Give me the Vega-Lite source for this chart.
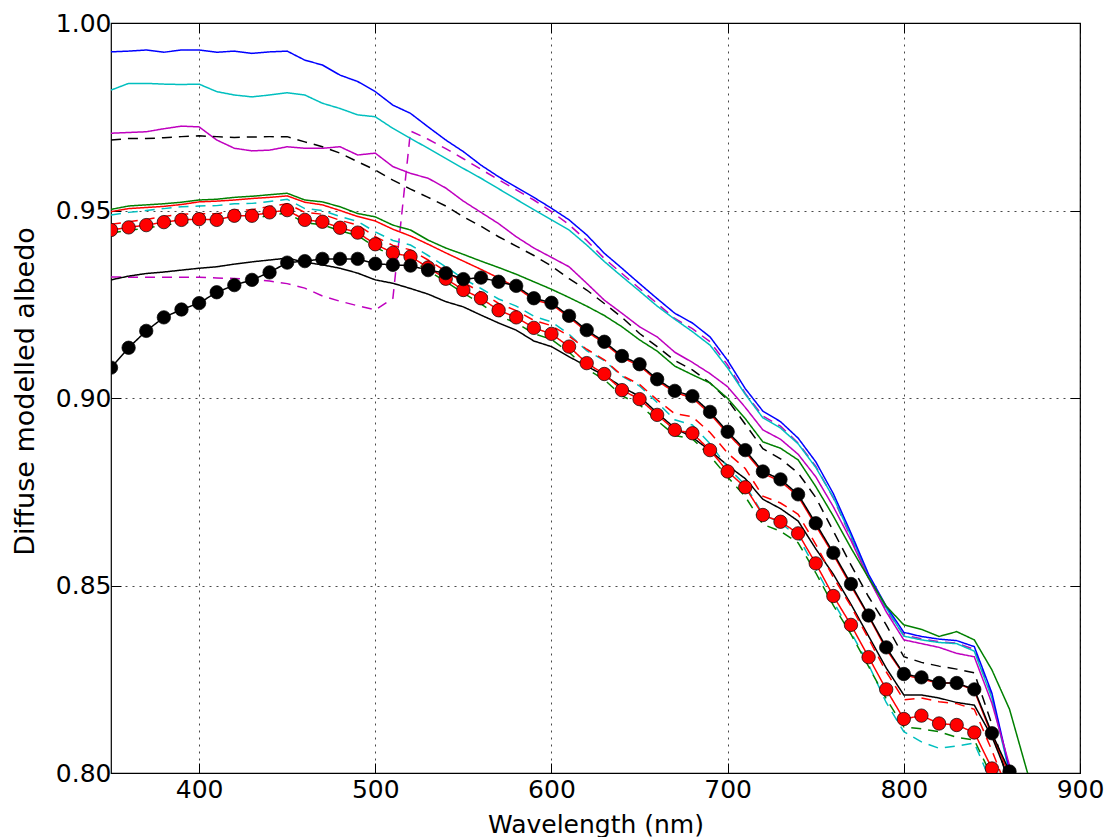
{
 "$schema": "https://vega.github.io/schema/vega-lite/v6.json",
 "width": 969, "height": 750,
 "autosize": {"type": "none"},
 "padding": {"left": 111, "top": 23, "right": 31, "bottom": 64},
 "background": "white",
 "config": {
  "font": "DejaVu Sans",
  "view": {"stroke": "black", "strokeWidth": 1.2},
  "axis": {"labelFont": "DejaVu Sans", "titleFont": "DejaVu Sans", "labelFontSize": 25, "titleFontSize": 25, "labelColor": "#000", "titleColor": "#000", "titleFontWeight": "normal", "domain": false, "tickColor": "#000", "tickSize": -10, "tickWidth": 1, "gridColor": "#000", "gridDash": [2, 5], "gridWidth": 0.8, "gridOpacity": 0.9, "labelPadding": 10, "labelFlush": false}
 },
 "data": {"values": [
  {"x":350,"bl":0.9923,"cy":0.9821,"mg":0.9706,"kd":0.9688,"gr":0.9503,"rd":0.9497,"cd":0.9488,"rdd":0.9463,"gd":0.9440,"md":0.9323,"k":0.9315,"kdot":0.9081,"rdot":0.9448},
  {"x":360,"bl":0.9925,"cy":0.9839,"mg":0.9708,"kd":0.9692,"gr":0.9512,"rd":0.9505,"cd":0.9495,"rdd":0.9470,"gd":0.9447,"md":0.9322,"k":0.9325,"kdot":0.9134,"rdot":0.9455},
  {"x":370,"bl":0.9928,"cy":0.9839,"mg":0.9710,"kd":0.9692,"gr":0.9515,"rd":0.9508,"cd":0.9500,"rdd":0.9476,"gd":0.9453,"md":0.9322,"k":0.9332,"kdot":0.9179,"rdot":0.9461},
  {"x":380,"bl":0.9922,"cy":0.9837,"mg":0.9718,"kd":0.9694,"gr":0.9518,"rd":0.9511,"cd":0.9505,"rdd":0.9484,"gd":0.9461,"md":0.9322,"k":0.9336,"kdot":0.9215,"rdot":0.9469},
  {"x":390,"bl":0.9928,"cy":0.9836,"mg":0.9725,"kd":0.9697,"gr":0.9522,"rd":0.9516,"cd":0.9510,"rdd":0.9490,"gd":0.9467,"md":0.9322,"k":0.9341,"kdot":0.9236,"rdot":0.9475},
  {"x":400,"bl":0.9928,"cy":0.9837,"mg":0.9723,"kd":0.9699,"gr":0.9528,"rd":0.9523,"cd":0.9512,"rdd":0.9492,"gd":0.9469,"md":0.9322,"k":0.9346,"kdot":0.9253,"rdot":0.9477},
  {"x":410,"bl":0.9922,"cy":0.9817,"mg":0.9688,"kd":0.9697,"gr":0.9530,"rd":0.9525,"cd":0.9513,"rdd":0.9491,"gd":0.9468,"md":0.9320,"k":0.9350,"kdot":0.9282,"rdot":0.9475},
  {"x":420,"bl":0.9925,"cy":0.9808,"mg":0.9666,"kd":0.9695,"gr":0.9535,"rd":0.9528,"cd":0.9518,"rdd":0.9501,"gd":0.9478,"md":0.9319,"k":0.9357,"kdot":0.9301,"rdot":0.9486},
  {"x":430,"bl":0.9919,"cy":0.9803,"mg":0.9659,"kd":0.9696,"gr":0.9538,"rd":0.9532,"cd":0.9519,"rdd":0.9502,"gd":0.9478,"md":0.9316,"k":0.9363,"kdot":0.9315,"rdot":0.9486},
  {"x":440,"bl":0.9923,"cy":0.9808,"mg":0.9661,"kd":0.9697,"gr":0.9542,"rd":0.9535,"cd":0.9524,"rdd":0.9511,"gd":0.9487,"md":0.9312,"k":0.9368,"kdot":0.9335,"rdot":0.9495},
  {"x":450,"bl":0.9925,"cy":0.9814,"mg":0.9670,"kd":0.9697,"gr":0.9546,"rd":0.9539,"cd":0.9530,"rdd":0.9518,"gd":0.9493,"md":0.9305,"k":0.9373,"kdot":0.9361,"rdot":0.9501},
  {"x":460,"bl":0.9901,"cy":0.9808,"mg":0.9666,"kd":0.9683,"gr":0.9528,"rd":0.9522,"cd":0.9505,"rdd":0.9495,"gd":0.9467,"md":0.9293,"k":0.9362,"kdot":0.9365,"rdot":0.9475},
  {"x":470,"bl":0.9888,"cy":0.9786,"mg":0.9666,"kd":0.9670,"gr":0.9523,"rd":0.9515,"cd":0.9500,"rdd":0.9490,"gd":0.9462,"md":0.9272,"k":0.9355,"kdot":0.9371,"rdot":0.9470},
  {"x":480,"bl":0.9861,"cy":0.9772,"mg":0.9670,"kd":0.9653,"gr":0.9510,"rd":0.9500,"cd":0.9484,"rdd":0.9474,"gd":0.9446,"md":0.9258,"k":0.9346,"kdot":0.9371,"rdot":0.9454},
  {"x":490,"bl":0.9844,"cy":0.9755,"mg":0.9648,"kd":0.9630,"gr":0.9492,"rd":0.9484,"cd":0.9471,"rdd":0.9461,"gd":0.9433,"md":0.9246,"k":0.9333,"kdot":0.9371,"rdot":0.9441},
  {"x":500,"bl":0.9817,"cy":0.9750,"mg":0.9653,"kd":0.9608,"gr":0.9483,"rd":0.9472,"cd":0.9443,"rdd":0.9430,"gd":0.9402,"md":0.9235,"k":0.9315,"kdot":0.9358,"rdot":0.9410},
  {"x":510,"bl":0.9781,"cy":0.9719,"mg":0.9617,"kd":0.9581,"gr":0.9461,"rd":0.9450,"cd":0.9420,"rdd":0.9407,"gd":0.9379,"md":0.9266,"k":0.9306,"kdot":0.9355,"rdot":0.9387},
  {"x":520,"bl":0.9759,"cy":0.9692,"mg":0.9599,"kd":0.9557,"gr":0.9448,"rd":0.9432,"cd":0.9408,"rdd":0.9395,"gd":0.9369,"md":0.9712,"k":0.9292,"kdot":0.9353,"rdot":0.9377},
  {"x":530,"bl":0.9723,"cy":0.9666,"mg":0.9586,"kd":0.9535,"gr":0.9421,"rd":0.9410,"cd":0.9380,"rdd":0.9368,"gd":0.9340,"md":0.9690,"k":0.9277,"kdot":0.9341,"rdot":0.9348},
  {"x":540,"bl":0.9688,"cy":0.9639,"mg":0.9560,"kd":0.9512,"gr":0.9400,"rd":0.9387,"cd":0.9350,"rdd":0.9338,"gd":0.9310,"md":0.9665,"k":0.9257,"kdot":0.9333,"rdot":0.9318},
  {"x":550,"bl":0.9657,"cy":0.9612,"mg":0.9525,"kd":0.9483,"gr":0.9383,"rd":0.9365,"cd":0.9318,"rdd":0.9308,"gd":0.9280,"md":0.9638,"k":0.9243,"kdot":0.9317,"rdot":0.9288},
  {"x":560,"bl":0.9621,"cy":0.9586,"mg":0.9495,"kd":0.9458,"gr":0.9365,"rd":0.9343,"cd":0.9292,"rdd":0.9282,"gd":0.9251,"md":0.9610,"k":0.9221,"kdot":0.9321,"rdot":0.9266},
  {"x":570,"bl":0.9590,"cy":0.9558,"mg":0.9465,"kd":0.9430,"gr":0.9348,"rd":0.9320,"cd":0.9264,"rdd":0.9252,"gd":0.9219,"md":0.9582,"k":0.9200,"kdot":0.9310,"rdot":0.9234},
  {"x":580,"bl":0.9562,"cy":0.9530,"mg":0.9430,"kd":0.9405,"gr":0.9330,"rd":0.9295,"cd":0.9245,"rdd":0.9233,"gd":0.9200,"md":0.9555,"k":0.9181,"kdot":0.9299,"rdot":0.9215},
  {"x":590,"bl":0.9535,"cy":0.9502,"mg":0.9400,"kd":0.9380,"gr":0.9310,"rd":0.9262,"cd":0.9218,"rdd":0.9207,"gd":0.9172,"md":0.9528,"k":0.9152,"kdot":0.9266,"rdot":0.9187},
  {"x":600,"bl":0.9506,"cy":0.9475,"mg":0.9375,"kd":0.9352,"gr":0.9290,"rd":0.9250,"cd":0.9203,"rdd":0.9193,"gd":0.9156,"md":0.9497,"k":0.9137,"kdot":0.9254,"rdot":0.9171},
  {"x":610,"bl":0.9475,"cy":0.9448,"mg":0.9350,"kd":0.9318,"gr":0.9268,"rd":0.9215,"cd":0.9170,"rdd":0.9165,"gd":0.9122,"md":0.9462,"k":0.9110,"kdot":0.9219,"rdot":0.9137},
  {"x":620,"bl":0.9435,"cy":0.9408,"mg":0.9306,"kd":0.9288,"gr":0.9245,"rd":0.9177,"cd":0.9126,"rdd":0.9130,"gd":0.9078,"md":0.9420,"k":0.9085,"kdot":0.9181,"rdot":0.9093},
  {"x":630,"bl":0.9386,"cy":0.9364,"mg":0.9261,"kd":0.9252,"gr":0.9220,"rd":0.9146,"cd":0.9100,"rdd":0.9102,"gd":0.9049,"md":0.9372,"k":0.9060,"kdot":0.9150,"rdot":0.9064},
  {"x":640,"bl":0.9346,"cy":0.9324,"mg":0.9226,"kd":0.9215,"gr":0.9190,"rd":0.9108,"cd":0.9058,"rdd":0.9060,"gd":0.9006,"md":0.9332,"k":0.9030,"kdot":0.9112,"rdot":0.9021},
  {"x":650,"bl":0.9305,"cy":0.9285,"mg":0.9190,"kd":0.9172,"gr":0.9155,"rd":0.9086,"cd":0.9032,"rdd":0.9036,"gd":0.8982,"md":0.9292,"k":0.9004,"kdot":0.9090,"rdot":0.8997},
  {"x":660,"bl":0.9265,"cy":0.9245,"mg":0.9163,"kd":0.9137,"gr":0.9125,"rd":0.9046,"cd":0.8988,"rdd":0.8995,"gd":0.8940,"md":0.9252,"k":0.8960,"kdot":0.9050,"rdot":0.8955},
  {"x":670,"bl":0.9226,"cy":0.9210,"mg":0.9122,"kd":0.9100,"gr":0.9085,"rd":0.9015,"cd":0.8942,"rdd":0.8958,"gd":0.8900,"md":0.9212,"k":0.8920,"kdot":0.9019,"rdot":0.8915},
  {"x":680,"bl":0.9200,"cy":0.9177,"mg":0.9095,"kd":0.9075,"gr":0.9062,"rd":0.9000,"cd":0.8928,"rdd":0.8950,"gd":0.8891,"md":0.9185,"k":0.8895,"kdot":0.9005,"rdot":0.8906},
  {"x":690,"bl":0.9163,"cy":0.9141,"mg":0.9065,"kd":0.9040,"gr":0.9040,"rd":0.8958,"cd":0.8878,"rdd":0.8908,"gd":0.8846,"md":0.9150,"k":0.8860,"kdot":0.8963,"rdot":0.8861},
  {"x":700,"bl":0.9100,"cy":0.9080,"mg":0.9030,"kd":0.8995,"gr":0.8999,"rd":0.8905,"cd":0.8815,"rdd":0.8853,"gd":0.8789,"md":0.9088,"k":0.8820,"kdot":0.8910,"rdot":0.8804},
  {"x":710,"bl":0.9025,"cy":0.9010,"mg":0.8975,"kd":0.8930,"gr":0.8945,"rd":0.8856,"cd":0.8768,"rdd":0.8812,"gd":0.8737,"md":0.9012,"k":0.8785,"kdot":0.8861,"rdot":0.8762},
  {"x":720,"bl":0.8965,"cy":0.8947,"mg":0.8915,"kd":0.8865,"gr":0.8883,"rd":0.8799,"cd":0.8690,"rdd":0.8738,"gd":0.8663,"md":0.8952,"k":0.8730,"kdot":0.8804,"rdot":0.8688},
  {"x":730,"bl":0.8937,"cy":0.8920,"mg":0.8890,"kd":0.8838,"gr":0.8866,"rd":0.8778,"cd":0.8667,"rdd":0.8720,"gd":0.8645,"md":0.8925,"k":0.8705,"kdot":0.8783,"rdot":0.8670},
  {"x":740,"bl":0.8893,"cy":0.8878,"mg":0.8850,"kd":0.8800,"gr":0.8835,"rd":0.8738,"cd":0.8630,"rdd":0.8690,"gd":0.8614,"md":0.8880,"k":0.8672,"kdot":0.8743,"rdot":0.8639},
  {"x":750,"bl":0.8830,"cy":0.8815,"mg":0.8790,"kd":0.8735,"gr":0.8764,"rd":0.8660,"cd":0.8545,"rdd":0.8610,"gd":0.8534,"md":0.8818,"k":0.8598,"kdot":0.8666,"rdot":0.8559},
  {"x":760,"bl":0.8745,"cy":0.8735,"mg":0.8710,"kd":0.8645,"gr":0.8685,"rd":0.8582,"cd":0.8457,"rdd":0.8522,"gd":0.8447,"md":0.8733,"k":0.8530,"kdot":0.8587,"rdot":0.8472},
  {"x":770,"bl":0.8640,"cy":0.8632,"mg":0.8620,"kd":0.8555,"gr":0.8600,"rd":0.8499,"cd":0.8375,"rdd":0.8445,"gd":0.8370,"md":0.8628,"k":0.8450,"kdot":0.8504,"rdot":0.8395},
  {"x":780,"bl":0.8530,"cy":0.8525,"mg":0.8520,"kd":0.8470,"gr":0.8520,"rd":0.8418,"cd":0.8289,"rdd":0.8358,"gd":0.8284,"md":0.8520,"k":0.8365,"kdot":0.8420,"rdot":0.8309},
  {"x":790,"bl":0.8445,"cy":0.8440,"mg":0.8430,"kd":0.8395,"gr":0.8445,"rd":0.8330,"cd":0.8188,"rdd":0.8270,"gd":0.8198,"md":0.8435,"k":0.8280,"kdot":0.8335,"rdot":0.8223},
  {"x":800,"bl":0.8375,"cy":0.8365,"mg":0.8355,"kd":0.8310,"gr":0.8395,"rd":0.8262,"cd":0.8110,"rdd":0.8195,"gd":0.8123,"md":0.8368,"k":0.8208,"kdot":0.8264,"rdot":0.8144},
  {"x":810,"bl":0.8364,"cy":0.8355,"mg":0.8345,"kd":0.8295,"gr":0.8383,"rd":0.8250,"cd":0.8083,"rdd":0.8200,"gd":0.8118,"md":0.8358,"k":0.8208,"kdot":0.8255,"rdot":0.8153},
  {"x":820,"bl":0.8357,"cy":0.8348,"mg":0.8335,"kd":0.8285,"gr":0.8364,"rd":0.8240,"cd":0.8066,"rdd":0.8190,"gd":0.8110,"md":0.8350,"k":0.8200,"kdot":0.8240,"rdot":0.8132},
  {"x":830,"bl":0.8353,"cy":0.8345,"mg":0.8319,"kd":0.8277,"gr":0.8377,"rd":0.8240,"cd":0.8072,"rdd":0.8185,"gd":0.8095,"md":0.8346,"k":0.8188,"kdot":0.8240,"rdot":0.8128},
  {"x":840,"bl":0.8337,"cy":0.8325,"mg":0.8310,"kd":0.8267,"gr":0.8355,"rd":0.8220,"cd":0.8080,"rdd":0.8170,"gd":0.8088,"md":0.8330,"k":0.8181,"kdot":0.8223,"rdot":0.8108},
  {"x":850,"bl":0.8213,"cy":0.8200,"mg":0.8186,"kd":0.8130,"gr":0.8275,"rd":0.8100,"cd":0.7970,"rdd":0.8060,"gd":0.7990,"md":0.8205,"k":0.8097,"kdot":0.8106,"rdot":0.8012},
  {"x":860,"bl":0.8008,"cy":0.8000,"mg":0.8020,"kd":0.7960,"gr":0.8170,"rd":0.7995,"cd":0.7860,"rdd":0.7940,"gd":0.7880,"md":0.8003,"k":0.7980,"kdot":0.8004,"rdot":0.7900},
  {"x":870,"bl":0.7800,"cy":0.7800,"mg":0.7830,"kd":0.7800,"gr":0.8004,"rd":0.7870,"md":0.7800,"k":0.7850,"kdot":0.7880},
  {"x":880,"gr":0.7850}
 ]},
 "layer": [
  {
   "transform": [{"fold": ["md","cy","bl","mg","kd","gr","rd","k","cd","gd","rdd","rdot","kdot"], "as": ["s","v"]}],
   "mark": {"type": "line", "strokeWidth": 1.5, "clip": true},
   "encoding": {
    "x": {"field": "x", "type": "quantitative", "scale": {"domain": [350, 900], "nice": false, "zero": false},
          "axis": {"values": [400, 500, 600, 700, 800, 900], "title": "Wavelength (nm)", "grid": true, "labelPadding": 14, "titlePadding": 10}},
    "y": {"field": "v", "type": "quantitative", "scale": {"domain": [0.8, 1.0], "nice": false, "zero": false},
          "axis": {"values": [0.8, 0.85, 0.9, 0.95, 1.0], "format": ".2f", "title": "Diffuse modelled albedo", "grid": true, "titleFontSize": 27, "titleBaseline": "alphabetic", "titleX": -78, "titleY": 368, "titleAngle": 270, "titleAlign": "center"}},
    "color": {"field": "s", "type": "nominal", "legend": null,
              "scale": {"domain": ["md","cy","bl","mg","kd","gr","rd","k","cd","gd","rdd","rdot","kdot"],
                        "range": ["#bf00bf","#00bfbf","#0000ff","#bf00bf","#000000","#008000","#ff0000","#000000","#00bfbf","#008000","#ff0000","#ff0000","#000000"]}},
    "strokeDash": {"field": "s", "type": "nominal", "legend": null,
              "scale": {"domain": ["md","cy","bl","mg","kd","gr","rd","k","cd","gd","rdd","rdot","kdot"],
                        "range": [[10,7],[1,0],[1,0],[1,0],[10,7],[1,0],[1,0],[1,0],[10,7],[10,7],[10,7],[1,0],[1,0]]}}
   }
  },
  {
   "mark": {"type": "circle", "size": 180, "fill": "#ff0000", "stroke": "#000000", "strokeWidth": 0.7, "opacity": 1, "clip": true},
   "encoding": {
    "x": {"field": "x", "type": "quantitative", "axis": {"orient": "top", "labels": false, "grid": false, "title": null, "values": [400, 500, 600, 700, 800, 900]}},
    "y": {"field": "rdot", "type": "quantitative", "axis": {"orient": "right", "labels": false, "grid": false, "title": null, "values": [0.8, 0.85, 0.9, 0.95, 1.0]}}
   }
  },
  {
   "mark": {"type": "circle", "size": 180, "fill": "#000000", "stroke": "#000000", "strokeWidth": 0.7, "opacity": 1, "clip": true},
   "encoding": {
    "x": {"field": "x", "type": "quantitative", "axis": null},
    "y": {"field": "kdot", "type": "quantitative", "axis": null}
   }
  }
 ],
 "resolve": {"axis": {"x": "independent", "y": "independent"}}
}
